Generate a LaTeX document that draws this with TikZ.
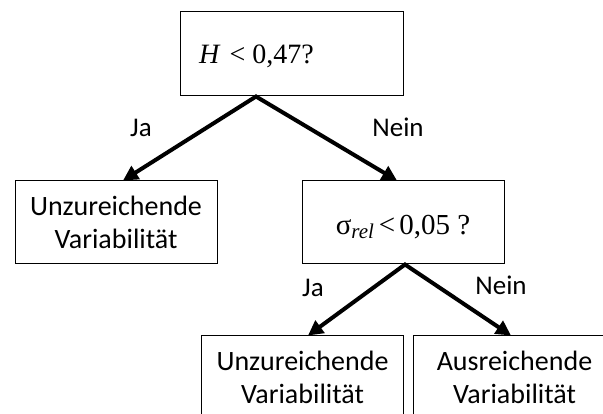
\documentclass[tikz,border=0pt]{standalone}
\usepackage{fontspec}
\setmainfont{Carlito}
\newfontfamily\formel{Liberation Serif}
\usetikzlibrary{arrows.meta}

\begin{document}
\begin{tikzpicture}[x=1pt, y=-1pt,
    box/.style={draw, rectangle, line width=1pt, inner sep=0pt, minimum width=202pt, minimum height=83pt, align=center, font=\fontsize{28}{33}\selectfont},
    pfeil/.style={line width=4pt, {Triangle[length=15pt,width=15pt]}-{Triangle[length=15pt,width=15pt]}},
    antwort/.style={anchor=base, font=\fontsize{27}{30}\selectfont}]
    \clip (0,0) rectangle (603,414);
    % Knoten

    \node[box, minimum width=223pt, text height=52pt, text depth=32pt, font=\formel\fontsize{28}{30}\selectfont] (frage1) at (291.5,54) {\textit{H}\hspace{9pt}<\hspace{7pt}0,47?\hspace*{70pt}};
    \node[box] (ergebnis1) at (116,222.5) {Unzureichende\\Variabilität};
    \node[box, text height=54pt, text depth=29pt, font=\formel\fontsize{29}{34}\selectfont] (frage2) at (403,222.5) {σ\raisebox{-0.3ex}{\fontsize{21}{24}\selectfont\itshape rel}\hspace{5pt}<\hspace{4pt}0,05 ?};
    \node[box] (ergebnis2) at (302.5,377.5) {Unzureichende\\Variabilität};
    \node[box] (ergebnis3) at (514.5,377.5) {Ausreichende\\Variabilität};

    % Kanten
    \draw[pfeil] ([xshift=7pt]ergebnis1.north) -- ([xshift=-35.5pt]frage1.south) -- ([xshift=-6pt]frage2.north);
    \draw[pfeil] ([xshift=5.5pt]ergebnis2.north) -- ([xshift=2pt]frage2.south) -- ([xshift=-3.5pt]ergebnis3.north);

    \node[antwort] (ja1) at (141,137) {Ja};
    \node[antwort] (nein1) at (398,137) {Nein};
    \node[antwort] (ja2) at (313,297) {Ja};
    \node[antwort] (nein2) at (501,295) {Nein};

\end{tikzpicture}
\end{document}
